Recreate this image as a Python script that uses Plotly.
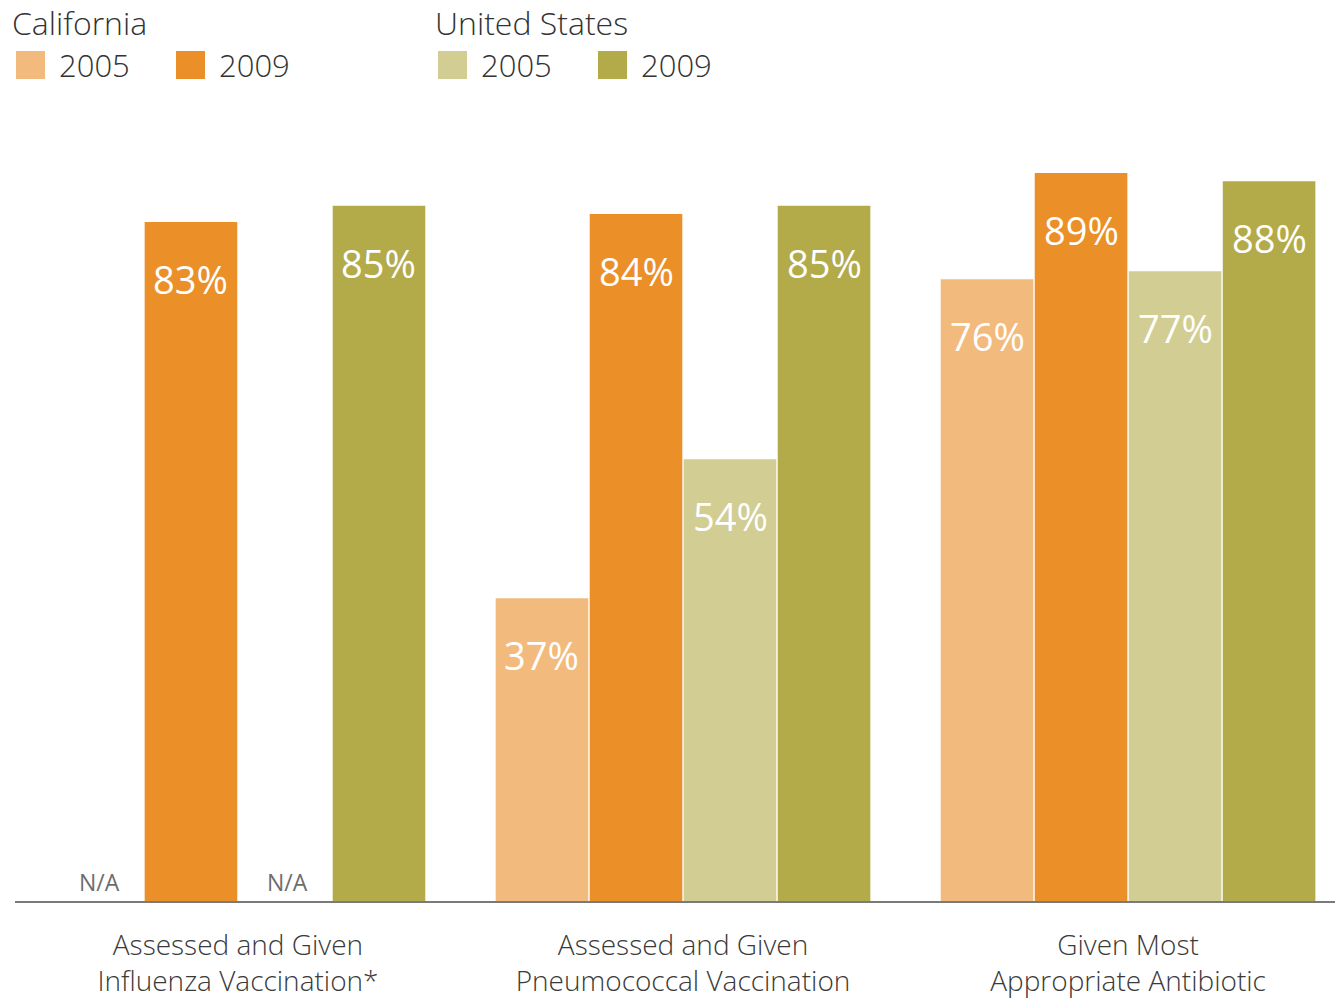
import plotly.graph_objects as go

# ---- data ----
categories = ["Assessed and Given<br>Influenza Vaccination*",
              "Assessed and Given<br>Pneumococcal Vaccination",
              "Given Most<br>Appropriate Antibiotic"]
series_names = ["California 2005", "California 2009", "United States 2005", "United States 2009"]
ca_2005 = [None, 37, 76]
ca_2009 = [83, 84, 89]
us_2005 = [None, 54, 77]
us_2009 = [85, 85, 88]
colors = ["#F3BA7E", "#EB8F29", "#D2CD92", "#B3AA4A"]

FONT = "Open Sans"
LIGHT = 300
W, H = 1335, 1000
ML, MR, MT, MB = 15, 0, 83, 99
BARGAP = 0.155
GROUPGAP = 0.015

series = [ca_2005, ca_2009, us_2005, us_2009]
xpos = list(range(len(categories)))

fig = go.Figure()
for name, vals, col in zip(series_names, series, colors):
    fig.add_trace(go.Bar(x=xpos, y=[v if v is not None else 0 for v in vals],
                         name=name, marker=dict(color=col, line=dict(width=0)),
                         showlegend=False, hoverinfo="skip"))

# value labels inside the bars, N/A for missing values
slot = (1 - BARGAP) / len(series)
annotations = []
for i, vals in enumerate(series):
    off = (i - (len(series) - 1) / 2) * slot
    for g, v in enumerate(vals):
        if v is None:
            annotations.append(dict(x=g + off, y=0, xref="x", yref="y", text="N/A",
                                    showarrow=False, yanchor="bottom", yshift=1, xshift=3,
                                    font=dict(family=FONT, size=23, color="#6d6d6d", weight=400)))
        else:
            annotations.append(dict(x=g + off, y=v, xref="x", yref="y", text=f"{v}%",
                                    showarrow=False, yanchor="middle", yshift=-57,
                                    font=dict(family=FONT, size=38, color="white", weight=400)))

# legend drawn in paper space
PW, PH = W - ML - MR, H - MT - MB
def px(x):
    return (x - ML) / PW
def py(y):
    return (H - MB - y) / PH

shapes = []
legend_groups = [("California", 10, [(0, 16, "2005"), (1, 176, "2009")]),
                 ("United States", 433, [(2, 438, "2005"), (3, 598, "2009")])]
for title, tx, items in legend_groups:
    annotations.append(dict(x=px(tx), y=py(22), xref="paper", yref="paper", text=title,
                            showarrow=False, xanchor="left", yanchor="middle",
                            font=dict(family=FONT, size=32, color="#333333", weight=LIGHT)))
    for idx, sx, label in items:
        shapes.append(dict(type="rect", xref="paper", yref="paper",
                           x0=px(sx), x1=px(sx + 29), y0=py(51), y1=py(79),
                           fillcolor=colors[idx], line=dict(width=0)))
        annotations.append(dict(x=px(sx + 41), y=py(65), xref="paper", yref="paper", text=label,
                                showarrow=False, xanchor="left", yanchor="middle",
                                font=dict(family=FONT, size=31, color="#333333", weight=LIGHT)))

fig.update_layout(
    width=W, height=H,
    margin=dict(l=ML, r=MR, t=MT, b=MB),
    paper_bgcolor="white", plot_bgcolor="white",
    barmode="group", bargap=BARGAP, bargroupgap=GROUPGAP,
    annotations=annotations, shapes=shapes,
    xaxis=dict(range=[-0.501, 2.465], tickmode="array", tickvals=xpos, ticktext=categories,
               showgrid=False, zeroline=False, showline=True, linecolor="#7a7a7a", linewidth=2,
               ticks="", tickfont=dict(family=FONT, size=28, color="#3a3a3a", weight=LIGHT),
               ticklabelstandoff=18),
    yaxis=dict(range=[0, 100], visible=False, showgrid=False, zeroline=False),
)

fig.write_html("out.html")
